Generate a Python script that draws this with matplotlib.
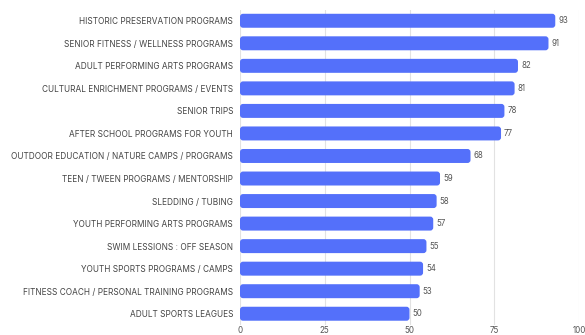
import matplotlib
matplotlib.use("Agg")
import matplotlib.pyplot as plt
from matplotlib.patches import FancyBboxPatch

categories = [
    "HISTORIC PRESERVATION PROGRAMS",
    "SENIOR FITNESS / WELLNESS PROGRAMS",
    "ADULT PERFORMING ARTS PROGRAMS",
    "CULTURAL ENRICHMENT PROGRAMS / EVENTS",
    "SENIOR TRIPS",
    "AFTER SCHOOL PROGRAMS FOR YOUTH",
    "OUTDOOR EDUCATION / NATURE CAMPS / PROGRAMS",
    "TEEN / TWEEN PROGRAMS / MENTORSHIP",
    "SLEDDING / TUBING",
    "YOUTH PERFORMING ARTS PROGRAMS",
    "SWIM LESSIONS : OFF SEASON",
    "YOUTH SPORTS PROGRAMS / CAMPS",
    "FITNESS COACH / PERSONAL TRAINING PROGRAMS",
    "ADULT SPORTS LEAGUES",
]
values = [93, 91, 82, 81, 78, 77, 68, 59, 58, 57, 55, 54, 53, 50]
x_ticks = [0, 25, 50, 75, 100]

plt.rcParams["font.family"] = ["Inter", "DejaVu Sans"]

fig = plt.figure(figsize=(5.85, 3.35), dpi=100)
top_px, bottom_px = 9.5, 325.0
ax = fig.add_axes([240 / 585, 1 - bottom_px / 335, 339 / 585, (bottom_px - top_px) / 335])

bar_color = "#5470fa"
bar_h = 0.62
n = len(categories)
ax.set_xlim(0, 100)
ax.set_ylim(n - 0.5, -0.5)

# x units per pixel vs y units per pixel, for evenly rounded corners
px_x = 100 / 339
px_y = n / (bottom_px - top_px)
radius_px = 3
for i, v in enumerate(values):
    patch = FancyBboxPatch(
        (0, i - bar_h / 2), v, bar_h,
        boxstyle=f"round,pad=0,rounding_size={radius_px * px_x}",
        mutation_aspect=px_y / px_x,
        facecolor=bar_color, edgecolor="none", zorder=3,
    )
    ax.add_patch(patch)
    ax.text(v + 0.9, i, str(v), va="center", ha="left",
            fontsize=5.7, color="#555555", zorder=4)

ax.set_yticks(range(n))
ax.set_yticklabels(categories, fontsize=5.95, color="#444444")
ax.set_xticks(x_ticks)
ax.set_xticklabels([str(t) for t in x_ticks], fontsize=5.8, color="#555555")
ax.tick_params(axis="both", length=0)
ax.tick_params(axis="y", pad=5)
ax.tick_params(axis="x", pad=0.5)
ax.grid(axis="x", color="#e2e2e2", linewidth=0.8, zorder=0)
for s in ax.spines.values():
    s.set_visible(False)

fig.savefig("out.png", dpi=100)
